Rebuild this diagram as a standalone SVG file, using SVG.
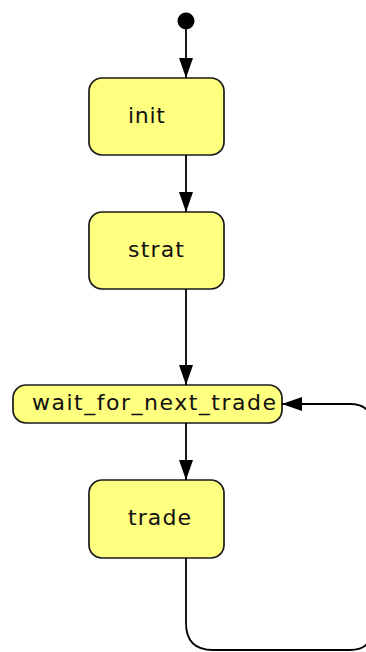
<svg xmlns="http://www.w3.org/2000/svg" width="366" height="652" viewBox="0 0 366 652">
<style>
.node rect{fill:#ffff80;stroke:#1a1a1a;stroke-width:1.7}
.node text{font-family:"DejaVu Sans",Verdana,sans-serif;font-size:22px;fill:#111}
.edge{fill:none;stroke:#000;stroke-width:1.8}
</style>
<defs>
<marker id="arr" markerUnits="userSpaceOnUse" markerWidth="20" markerHeight="14" refX="20" refY="7" orient="auto">
<path d="M0,0 L20,7 L0,14 Z" fill="#000"/>
</marker>
</defs>
<g id="start"><circle cx="186" cy="21" r="8.5" fill="#000"/></g>
<g id="init" class="node"><rect x="89" y="78" width="135" height="77" rx="13"/><text x="128" y="123" textLength="37" lengthAdjust="spacing">init</text></g>
<g id="strat" class="node"><rect x="89" y="212" width="135" height="77" rx="13"/><text x="128" y="257" textLength="56" lengthAdjust="spacing">strat</text></g>
<g id="wait_for_next_trade" class="node"><rect x="13" y="385" width="269" height="38" rx="13"/><text x="32" y="410" textLength="244" lengthAdjust="spacing">wait_for_next_trade</text></g>
<g id="trade" class="node"><rect x="89" y="480" width="135" height="78" rx="13"/><text x="128" y="525" textLength="63" lengthAdjust="spacing">trade</text></g>
<g id="connectors">
<path class="edge" d="M186,29 V78" marker-end="url(#arr)"/>
<path class="edge" d="M186,155 V212" marker-end="url(#arr)"/>
<path class="edge" d="M186,289 V385" marker-end="url(#arr)"/>
<path class="edge" d="M186,423 V480" marker-end="url(#arr)"/>
<path class="edge" d="M186,558 V623 Q186,650 213,650 H350 Q372,650 372,628 V426 Q372,404 350,404 H282" marker-end="url(#arr)"/>
</g>
</svg>
